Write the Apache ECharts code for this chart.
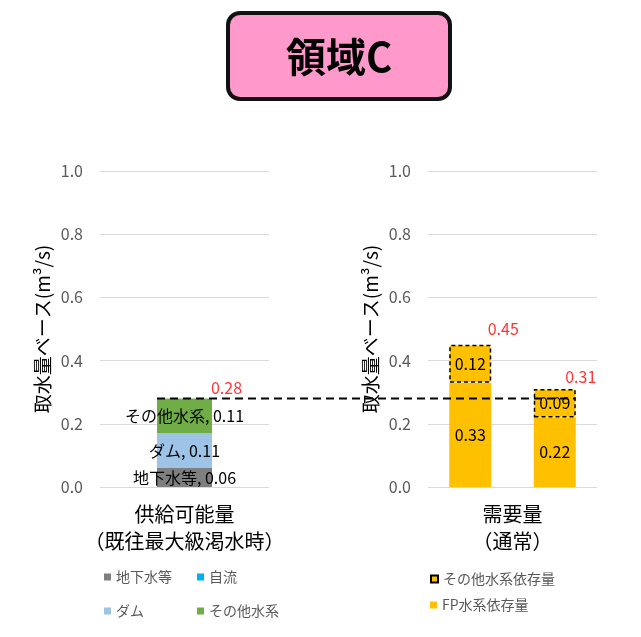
<!DOCTYPE html>
<html><head><meta charset="utf-8">
<script src="https://cdn.jsdelivr.net/npm/echarts@6/dist/echarts.min.js"></script>
<style>html,body{margin:0;padding:0;background:#fff}#c{width:641px;height:637px}</style>
</head><body><div id="c"></div>
<script>
// ---- data ----
const titleText = '領域C';
const yAxisName = '取水量ベース(m³/s)';
const supplyCategory = ['供給可能量\n（既往最大級渇水時）'];
const demandCategory = ['需要量\n（通常）'];
const demandBars = ['通常1', '通常2'];
const groundwater = [0.06];
const selfFlow = [0];
const dam = [0.11];
const otherSystem = [0.11];
const supplyTotal = [0.28];
const fpDependent = [0.33, 0.22];
const otherDependent = [0.12, 0.09];
const demandTotal = [0.45, 0.31];
const yMin = 0, yMax = 1.0, yStep = 0.2;

// ---- styles ----
const FONT = '"Noto Sans CJK JP", "Noto Sans", sans-serif';
const supplyTotalOffsets = [[42, -11]];
const demandTotalOffsets = [[33, -16], [26, -12]];
const leftBarW = 55, rightBarW = 42;

const chart = echarts.init(document.getElementById('c'), null, {renderer: 'canvas'});

function yAxisCfg(grid) {
  return {
    type: 'value', gridIndex: grid, min: yMin, max: yMax, interval: yStep,
    name: yAxisName, nameLocation: 'middle', nameGap: 48,
    nameTextStyle: {fontFamily: FONT, fontSize: 19, color: '#000'},
    axisLine: {show: false}, axisTick: {show: false},
    axisLabel: {fontFamily: FONT, fontSize: 16, color: '#595959', margin: 17,
      formatter: v => v.toFixed(1)},
    splitLine: {lineStyle: {color: '#D9D9D9', width: 1}}
  };
}
const catLabel = {fontFamily: FONT, fontSize: 20, color: '#000', lineHeight: 27, margin: 14, interval: 0};

const legendBase = {itemWidth: 7, itemHeight: 7, padding: 0, selectedMode: false, icon: 'rect',
  textStyle: {fontFamily: FONT, fontSize: 14, color: '#595959'}};

const innerLabel = {show: true, position: 'inside', fontFamily: FONT, fontSize: 16, color: '#000'};

const option = {
  animation: false,
  backgroundColor: '#fff',
  grid: [
    {left: 100, top: 171, width: 169, height: 316},
    {left: 428, top: 171, width: 169, height: 316}
  ],
  xAxis: [
    {type: 'category', gridIndex: 0, position: 'bottom', data: supplyCategory, axisLine: {show: false}, axisTick: {show: false}, axisLabel: catLabel},
    {type: 'category', gridIndex: 1, position: 'bottom', data: demandBars, axisLine: {show: false}, axisTick: {show: false}, axisLabel: {show: false}},
    {type: 'category', gridIndex: 1, position: 'bottom', offset: 0, data: demandCategory, axisLine: {show: false}, axisTick: {show: false}, axisLabel: catLabel}
  ],
  yAxis: [yAxisCfg(0), yAxisCfg(1)],
  legend: [
    Object.assign({}, legendBase, {data: ['地下水等'], left: 104, top: 570}),
    Object.assign({}, legendBase, {data: ['自流'], left: 197, top: 570}),
    Object.assign({}, legendBase, {data: ['ダム'], left: 104, top: 604}),
    Object.assign({}, legendBase, {data: ['その他水系'], left: 197, top: 604}),
    Object.assign({}, legendBase, {data: ['その他水系依存量'], left: 430, top: 572}),
    Object.assign({}, legendBase, {data: ['FP水系依存量'], left: 430, top: 598})
  ],
  series: [
    {name: '地下水等', type: 'bar', stack: 's', xAxisIndex: 0, yAxisIndex: 0, barWidth: leftBarW,
      data: groundwater, itemStyle: {color: '#7F7F7F'},
      label: Object.assign({}, innerLabel, {formatter: p => p.seriesName + ', ' + p.value.toFixed(2)})},
    {name: '自流', type: 'bar', stack: 's', xAxisIndex: 0, yAxisIndex: 0, barWidth: leftBarW,
      data: selfFlow, itemStyle: {color: '#00B0F0'}, label: {show: false}},
    {name: 'ダム', type: 'bar', stack: 's', xAxisIndex: 0, yAxisIndex: 0, barWidth: leftBarW,
      data: dam, itemStyle: {color: '#9DC3E6'},
      label: Object.assign({}, innerLabel, {formatter: p => p.seriesName + ', ' + p.value.toFixed(2)})},
    {name: 'その他水系', type: 'bar', stack: 's', xAxisIndex: 0, yAxisIndex: 0, barWidth: leftBarW,
      data: otherSystem, itemStyle: {color: '#70AD47'},
      label: Object.assign({}, innerLabel, {formatter: p => p.seriesName + ', ' + p.value.toFixed(2)})},
    {name: '供給合計', type: 'scatter', xAxisIndex: 0, yAxisIndex: 0, symbolSize: 1,
      itemStyle: {color: 'rgba(0,0,0,0)'},
      data: supplyTotal.map((v, i) => ({value: v, label: {offset: supplyTotalOffsets[i]}})),
      label: {show: true, position: 'inside', fontFamily: FONT, fontSize: 16, color: '#FF0000', formatter: p => p.value.toFixed(2)}},
    {name: 'FP水系依存量', type: 'bar', stack: 'd', xAxisIndex: 1, yAxisIndex: 1, barWidth: rightBarW,
      data: fpDependent, itemStyle: {color: '#FFC000'},
      label: Object.assign({}, innerLabel, {formatter: p => p.value.toFixed(2)})},
    {name: 'その他水系依存量', type: 'bar', stack: 'd', xAxisIndex: 1, yAxisIndex: 1, barWidth: rightBarW,
      data: otherDependent, itemStyle: {color: '#FFC000', borderColor: '#000', borderWidth: 1.5, borderType: [4, 3]},
      label: Object.assign({}, innerLabel, {formatter: p => p.value.toFixed(2)})},
    {name: '需要合計', type: 'scatter', xAxisIndex: 1, yAxisIndex: 1, symbolSize: 1,
      itemStyle: {color: 'rgba(0,0,0,0)'},
      data: demandTotal.map((v, i) => ({value: v, label: {offset: demandTotalOffsets[i]}})),
      label: {show: true, position: 'inside', fontFamily: FONT, fontSize: 16, color: '#FF0000', formatter: p => p.value.toFixed(2)}}
  ],
  graphic: [
    {id: 'tbox', type: 'rect', shape: {x: 228, y: 13, width: 222, height: 86, r: 12},
      style: {fill: '#FF99CC', stroke: '#111', lineWidth: 4}, z: 10},
    {id: 'ttext', type: 'text', x: 339, y: 57, z: 11,
      style: {text: titleText, fill: '#000', font: 'bold 40px ' + FONT, textAlign: 'center', textVerticalAlign: 'middle'}}
  ]
};
chart.setOption(option);

// dashed reference line at the supply total, placed via the axes' scales
const yLine = chart.convertToPixel({yAxisIndex: 0}, supplyTotal[0]);
const xStart = chart.convertToPixel({xAxisIndex: 0}, 0) - leftBarW / 2;
const xEnd = chart.convertToPixel({xAxisIndex: 1}, 1) + rightBarW / 2;
chart.setOption({graphic: [
  {id: 'refline', type: 'line', z: 50, shape: {x1: xStart, y1: yLine, x2: xEnd, y2: yLine},
    style: {stroke: '#000', lineWidth: 2, lineDash: [8, 5]}}
]});
</script></body></html>
